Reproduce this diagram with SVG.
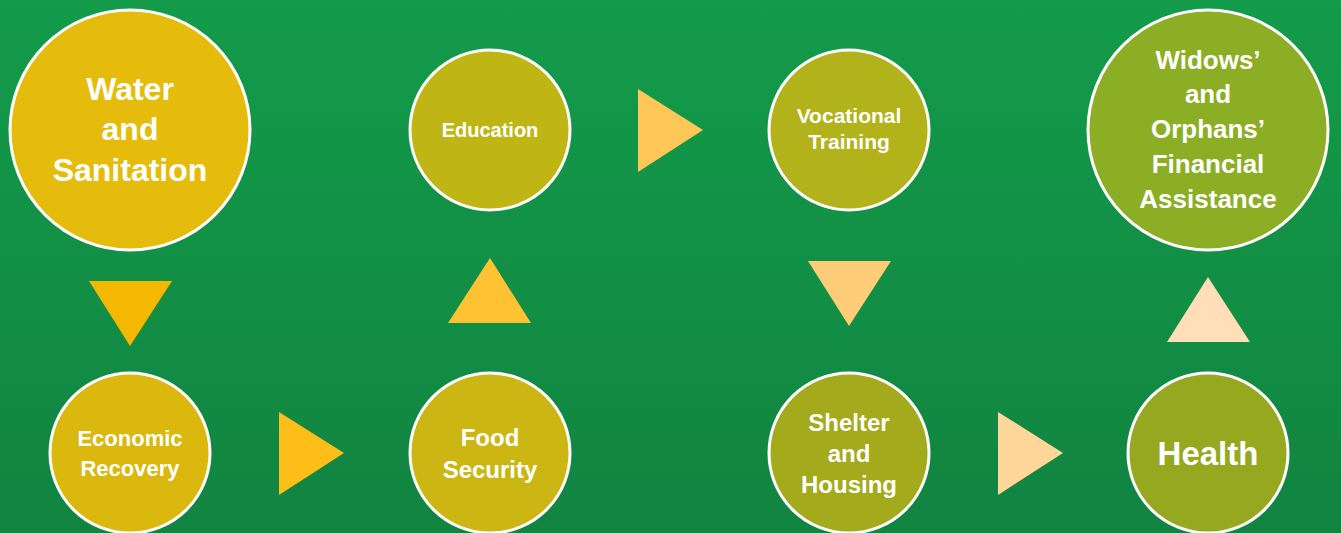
<svg xmlns="http://www.w3.org/2000/svg" width="1341" height="533" viewBox="0 0 1341 533">
<defs>
<linearGradient id="bg" x1="0" y1="0" x2="0" y2="1">
<stop offset="0" stop-color="#139B4A"/>
<stop offset="1" stop-color="#118441"/>
</linearGradient>
<style>
.n{stroke:#FFFFFF;stroke-width:3}
.t{font-family:"Liberation Sans",Arial,sans-serif;font-weight:bold;fill:#FFFFFF;text-anchor:middle}
</style>
</defs>
<rect width="1341" height="533" fill="url(#bg)"/>
<g id="connectors">
<polygon points="89,281 172,281 130,346" fill="#F5B800"/>
<polygon points="279,412 279,495 344,453" fill="#FDBE1A"/>
<polygon points="448,323 531,323 490,258" fill="#FFC233"/>
<polygon points="638,89 638,172 703,130" fill="#FFC658"/>
<polygon points="808,261 891,261 849,326" fill="#FFCC77"/>
<polygon points="998,412 998,495 1063,453" fill="#FFD699"/>
<polygon points="1167,342 1250,342 1208,277" fill="#FFDEB8"/>
</g>
<g id="water">
<circle class="n" cx="130" cy="130" r="120" fill="#E5BC0B"/>
<text class="t" font-size="32" x="130" y="100">Water</text>
<text class="t" font-size="32" x="130" y="140">and</text>
<text class="t" font-size="32" x="130" y="181">Sanitation</text>
</g>
<g id="economic">
<circle class="n" cx="130" cy="453" r="80" fill="#DAB80E"/>
<text class="t" font-size="22" x="130" y="446">Economic</text>
<text class="t" font-size="22" x="130" y="476">Recovery</text>
</g>
<g id="food">
<circle class="n" cx="490" cy="453" r="80" fill="#CCB613"/>
<text class="t" font-size="24" x="490" y="446">Food</text>
<text class="t" font-size="24" x="490" y="478">Security</text>
</g>
<g id="education">
<circle class="n" cx="490" cy="130" r="80" fill="#BFB616"/>
<text class="t" font-size="20" x="490" y="137">Education</text>
</g>
<g id="vocational">
<circle class="n" cx="849" cy="130" r="80" fill="#B2B21A"/>
<text class="t" font-size="21" x="849" y="123">Vocational</text>
<text class="t" font-size="21" x="849" y="149">Training</text>
</g>
<g id="shelter">
<circle class="n" cx="849" cy="453" r="80" fill="#A3AA1C"/>
<text class="t" font-size="24" x="849" y="431">Shelter</text>
<text class="t" font-size="24" x="849" y="462">and</text>
<text class="t" font-size="24" x="849" y="493">Housing</text>
</g>
<g id="health">
<circle class="n" cx="1208" cy="453" r="80" fill="#96A820"/>
<text class="t" font-size="33" x="1208" y="465">Health</text>
</g>
<g id="widows">
<circle class="n" cx="1208" cy="130" r="120" fill="#8BAE24"/>
<text class="t" font-size="26" x="1208" y="69">Widows’</text>
<text class="t" font-size="26" x="1208" y="103">and</text>
<text class="t" font-size="26" x="1208" y="138">Orphans’</text>
<text class="t" font-size="26" x="1208" y="173">Financial</text>
<text class="t" font-size="26" x="1208" y="208">Assistance</text>
</g>
</svg>
